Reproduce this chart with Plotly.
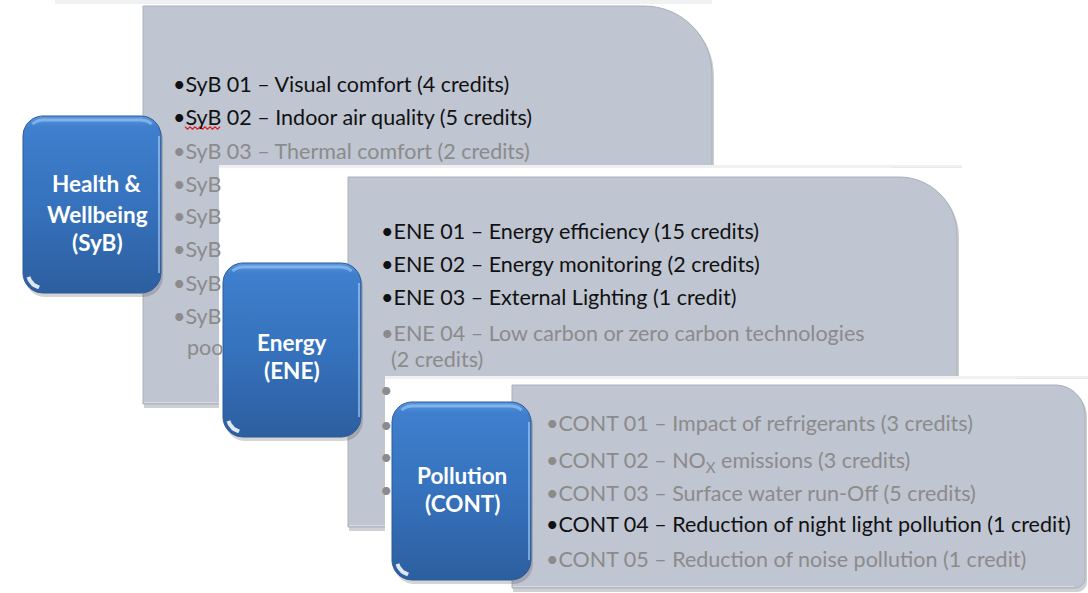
import numpy as np
import plotly.graph_objects as go

# category labels (blue boxes)
categories = ["Health &<br>Wellbeing<br>(SyB)", "Energy<br>(ENE)", "Pollution<br>(CONT)"]

# credit items per category, and whether each one is targeted (dark) or not (grey)
syb_items = [
    "•SyB 01 – Visual comfort (4 credits)",
    "•SyB 02 – Indoor air quality (5 credits)",
    "•SyB 03 – Thermal comfort (2 credits)",
    "•SyB", "•SyB", "•SyB", "•SyB", "•SyB",
    "poo",
]
syb_active = [True, True, False, False, False, False, False, False, False]

ene_items = [
    "•ENE 01 – Energy efficiency (15 credits)",
    "•ENE 02 – Energy monitoring (2 credits)",
    "•ENE 03 – External Lighting (1 credit)",
    "•ENE 04 – Low carbon or zero carbon technologies",
    "(2 credits)",
    "•", "•", "•", "•",
]
ene_active = [True, True, True, False, False, False, False, False, False]

cont_items = [
    "•CONT 01 – Impact of refrigerants (3 credits)",
    "•CONT 02 – NO<sub>X</sub> emissions (3 credits)",
    "•CONT 03 – Surface water run-Off (5 credits)",
    "•CONT 04 – Reduction of night light pollution (1 credit)",
    "•CONT 05 – Reduction of noise pollution (1 credit)",
]
cont_active = [False, False, False, True, False]

# layout of the three stacked cards (pixel space, y downwards)
W, H = 1088, 593
PANEL = "#bfc5d1"
DARK = "#111111"
GREY = "#8b8b8b"
FONT = "Lato"
ITEM_SIZE = 21.5
LABEL_SIZE = 22.5

cards = [
    dict(panel=(143, 6, 712, 404, 68, 0), white=None,
         box=(23, 116, 161, 293), label_x=97, label_y=[183, 214, 242],
         text_x=[171] * 8 + [185], text_y=[84, 117, 151, 184, 216, 249, 283, 316, 347],
         items=syb_items, active=syb_active),
    dict(panel=(348, 177, 957, 527, 58, 0), white=(219, 167, 962, 593),
         box=(223, 263, 361, 437), label_x=292, label_y=[342, 370],
         text_x=[379] * 4 + [389] + [378] * 4, text_y=[231, 264, 297, 333, 359, 390, 425, 457, 490],
         items=ene_items, active=ene_active),
    dict(panel=(512, 385, 1085, 588, 30, 10), white=(385, 378, 1088, 593),
         box=(392, 402, 531, 580), label_x=462, label_y=[475, 503],
         text_x=[544] * 5, text_y=[423, 461, 493, 524, 559],
         items=cont_items, active=cont_active),
]


def rr_path(x0, y0, x1, y1, tr=0, br=0):
    # rectangle with rounded top-right / bottom-right corners
    k = 0.4477
    p = f"M {x0},{y0} L {x1 - tr},{y0} "
    p += f"C {x1 - tr * k},{y0} {x1},{y0 + tr * k} {x1},{y0 + tr} "
    p += f"L {x1},{y1 - br} "
    p += f"C {x1},{y1 - br * k} {x1 - br * k},{y1} {x1 - br},{y1} "
    p += f"L {x0},{y1} Z"
    return p


def rr_points(x0, y0, x1, y1, r, n=14):
    xs, ys = [], []
    corners = [(x0 + r, y0 + r, 180, 270), (x1 - r, y0 + r, 270, 360),
               (x1 - r, y1 - r, 0, 90), (x0 + r, y1 - r, 90, 180)]
    for cx, cy, a0, a1 in corners:
        t = np.radians(np.linspace(a0, a1, n))
        xs += list(cx + r * np.cos(t))
        ys += list(cy + r * np.sin(t))
    return xs + [xs[0]], ys + [ys[0]]


fig = go.Figure()
shapes = []
annotations = []

# faint shadow strip along the very top
shapes.append(dict(type="rect", x0=55, y0=0, x1=712, y1=4, line_width=0,
                   fillcolor="#f0f1f3", layer="below"))

for c in cards:
    if c["white"]:
        x0, y0, x1, y1 = c["white"]
        shapes.append(dict(type="rect", x0=x0, y0=y0 - 2, x1=x1, y1=y0 + 2, line_width=0,
                           fillcolor="#f0f0f0", layer="below"))
        shapes.append(dict(type="rect", x0=x1 - 70, y0=y0, x1=x1, y1=y0 + 14,
                           line_width=0, fillcolor="#e4e4e4", opacity=0.6, layer="below"))
        shapes.append(dict(type="rect", x0=x0, y0=y0 + 1, x1=x1, y1=y1, line_width=0,
                           fillcolor="white", layer="below"))
    x0, y0, x1, y1, tr, br = c["panel"]
    # drop shadow + panel
    shapes.append(dict(type="path", path=rr_path(x0 + 1, y0 + 2, x1 + 2, y1 + 4, tr, br),
                       fillcolor="#cfd0d3", line_width=0, layer="below"))
    shapes.append(dict(type="path", path=rr_path(x0, y0, x1, y1, tr, br),
                       fillcolor=PANEL, line=dict(color="#aab0bc", width=1), layer="below"))
    shapes.append(dict(type="path", path=rr_path(x0 + 1, y1 - 2, x1 - br - 1, y1 - 1, 0, 0),
                       fillcolor="#d6dae2", line_width=0, layer="below"))

    # item texts
    for txt, act, tx, ty in zip(c["items"], c["active"], c["text_x"], c["text_y"]):
        annotations.append(dict(x=tx, y=ty, text=txt, showarrow=False, xanchor="left",
                                yanchor="middle",
                                font=dict(family=FONT, size=ITEM_SIZE, color=DARK if act else GREY)))

# red spell-check squiggle under "SyB" of SyB 02
sq_x = np.arange(185, 222, 2.5)
sq_y = 128 + np.where(np.arange(len(sq_x)) % 2 == 0, -1.2, 1.2)
shapes.append(dict(type="path",
                   path="M " + " L ".join(f"{a},{b}" for a, b in zip(sq_x, sq_y)),
                   line=dict(color="#e02020", width=1.2), layer="above"))

# blue category boxes
for c, label in zip(cards, categories):
    x0, y0, x1, y1 = c["box"]
    r = 20
    sx, sy = rr_points(x0 + 2, y0 + 4, x1 + 2, y1 + 4, r)
    fig.add_trace(go.Scatter(x=sx, y=sy, fill="toself", mode="lines", line_width=0,
                             fillcolor="rgba(60,60,60,0.22)", hoverinfo="skip", showlegend=False))
    bx, by = rr_points(x0, y0, x1, y1, r)
    fig.add_trace(go.Scatter(
        x=bx, y=by, fill="toself", mode="lines",
        line=dict(color="#2b5b98", width=1),
        fillgradient=dict(type="vertical", start=y0, stop=y1,
                          colorscale=[[0, "#5b98de"], [0.06, "#3f7fcd"], [0.5, "#3672bd"],
                                      [1, "#2c5f9f"]]),
        hoverinfo="skip", showlegend=False))
    # glossy top band
    hx, hy = rr_points(x0 + 4, y0 + 4, x1 - 4, y1 - 4, r - 4)
    n = len(hx) // 4
    fig.add_trace(go.Scatter(x=hx[n // 2:n + n // 2], y=hy[n // 2:n + n // 2],
                             mode="lines", line=dict(color="rgba(170,210,250,0.55)", width=3),
                             hoverinfo="skip", showlegend=False))
    # right edge highlight
    fig.add_trace(go.Scatter(x=[x1 - 2, x1 - 2], y=[y0 + r, y1 - r], mode="lines",
                             line=dict(color="rgba(170,210,250,0.8)", width=1.5),
                             hoverinfo="skip", showlegend=False))
    # glint at bottom-left corner
    t = np.radians(np.linspace(105, 165, 10))
    fig.add_trace(go.Scatter(x=x0 + r + (r - 5) * np.cos(t), y=y1 - r + (r - 5) * np.sin(t),
                             mode="lines", line=dict(color="rgba(255,255,255,0.85)", width=4),
                             hoverinfo="skip", showlegend=False))
    lines = label.split("<br>")
    for ln, ly in zip(lines, c["label_y"]):
        annotations.append(dict(x=c["label_x"], y=ly, text=ln, showarrow=False,
                                xanchor="center", yanchor="middle",
                                font=dict(family=FONT, size=LABEL_SIZE, color="white", weight="bold")))

fig.update_layout(
    width=W, height=H,
    margin=dict(l=0, r=0, t=0, b=0),
    plot_bgcolor="white", paper_bgcolor="white",
    shapes=shapes, annotations=annotations,
    xaxis=dict(range=[0, W], visible=False, fixedrange=True),
    yaxis=dict(range=[H, 0], visible=False, fixedrange=True),
    showlegend=False,
)
fig.write_html("out.html", config={"displayModeBar": False},
               post_script="document.body.style.margin='0';")
